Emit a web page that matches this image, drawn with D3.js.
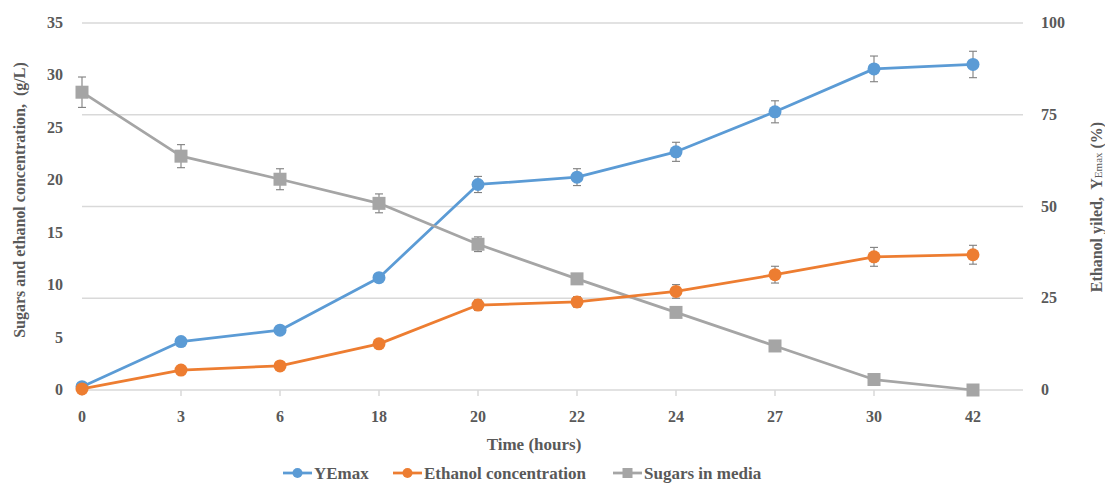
<!DOCTYPE html>
<html>
<head>
<meta charset="utf-8">
<script src="https://cdn.jsdelivr.net/npm/d3@7"></script>
<style>
  html, body { margin: 0; padding: 0; background: #fff; }
  svg { display: block; font-family: "Liberation Serif", "DejaVu Serif", serif; }
  text { white-space: pre; }
</style>
</head>
<body>
<svg id="chart" width="1105" height="483"></svg>
<script>
// ---- data ----
const categories = ["0", "3", "6", "18", "20", "22", "24", "27", "30", "42"];
const yemax      = [0.9, 13.2, 16.3, 30.6, 56.0, 58.0, 64.9, 75.8, 87.5, 88.7];
const yemaxErr   = [0.3, 0.5, 0.6, 0.8, 2.2, 2.3, 2.6, 3.0, 3.5, 3.6];
const ethanol    = [0.1, 1.9, 2.3, 4.4, 8.1, 8.4, 9.4, 11.0, 12.7, 12.9];
const ethanolErr = [0.05, 0.1, 0.15, 0.3, 0.5, 0.5, 0.65, 0.8, 0.9, 0.9];
const sugars     = [28.4, 22.3, 20.1, 17.8, 13.9, 10.6, 7.4, 4.2, 1.0, 0.0];
const sugarsErr  = [1.45, 1.1, 1.0, 0.9, 0.7, 0.4, 0.3, 0.2, 0.1, 0.05];
const leftTicks  = [0, 5, 10, 15, 20, 25, 30, 35];
const rightTicks = [0, 25, 50, 75, 100];
const seriesNames = ["YEmax", "Ethanol concentration", "Sugars in media"];
const colors = { blue: "#5B9BD5", orange: "#ED7D31", gray: "#A5A5A5" };

// ---- layout ----
const svg = d3.select("#chart");
const plotLeft = 82, plotRight = 1023, plotTop = 23, plotBottom = 390;
const x = d3.scalePoint().domain(categories).range([82, 973]);
const yL = d3.scaleLinear().domain([0, 35]).range([plotBottom, plotTop]);
const yR = d3.scaleLinear().domain([0, 100]).range([plotBottom, plotTop]);
const textColor = "#595959";
const gridColor = "#D9D9D9";

// gridlines (follow right axis)
svg.append("g").selectAll("line").data(rightTicks).join("line")
  .attr("x1", plotLeft).attr("x2", plotRight)
  .attr("y1", d => yR(d)).attr("y2", d => yR(d))
  .attr("stroke", gridColor).attr("stroke-width", 1.5);

// x-axis tick marks
svg.append("g").selectAll("line").data(categories).join("line")
  .attr("x1", d => x(d)).attr("x2", d => x(d))
  .attr("y1", plotBottom).attr("y2", plotBottom + 6)
  .attr("stroke", gridColor).attr("stroke-width", 1.5);

// x tick labels
svg.append("g").selectAll("text").data(categories).join("text")
  .attr("x", d => x(d)).attr("y", 422)
  .attr("text-anchor", "middle")
  .attr("font-size", 16).attr("font-weight", "bold").attr("fill", textColor)
  .text(d => d);

// left tick labels
svg.append("g").selectAll("text").data(leftTicks).join("text")
  .attr("x", 63).attr("y", d => yL(d) + 5)
  .attr("text-anchor", "end")
  .attr("font-size", 16).attr("font-weight", "bold").attr("fill", textColor)
  .text(d => d);

// right tick labels
svg.append("g").selectAll("text").data(rightTicks).join("text")
  .attr("x", 1041).attr("y", d => yR(d) + 5)
  .attr("text-anchor", "start")
  .attr("font-size", 16).attr("font-weight", "bold").attr("fill", textColor)
  .text(d => d);

// axis titles
svg.append("text")
  .attr("x", 534).attr("y", 450).attr("text-anchor", "middle")
  .attr("font-size", 17).attr("font-weight", "bold").attr("fill", textColor)
  .text("Time (hours)");

svg.append("text")
  .attr("transform", "translate(25,200) rotate(-90)")
  .attr("text-anchor", "middle")
  .attr("font-size", 16).attr("font-weight", "bold").attr("fill", textColor)
  .text("Sugars and ethanol concentration,  (g/L)");

const rt = svg.append("text")
  .attr("transform", "translate(1102,207) rotate(-90)")
  .attr("text-anchor", "middle")
  .attr("font-size", 16).attr("font-weight", "bold").attr("fill", textColor);
rt.append("tspan").text("Ethanol yiled,  Y");
rt.append("tspan").attr("font-size", 11).attr("font-weight", "normal").text("Emax");
rt.append("tspan").text(" (%)");

// ---- series ----
function drawSeries(values, errs, yScale, color, shape) {
  const g = svg.append("g");
  const pts = categories.map((c, i) => ({ c, v: values[i], e: errs[i] }));
  g.append("path")
    .datum(pts)
    .attr("fill", "none").attr("stroke", color).attr("stroke-width", 2.75)
    .attr("stroke-linejoin", "round")
    .attr("d", d3.line().x(d => x(d.c)).y(d => yScale(d.v)));
  // error bars
  const eb = g.append("g").attr("stroke", "#7F7F7F").attr("stroke-width", 1.1);
  pts.forEach(d => {
    const cx = x(d.c), y1 = yScale(d.v + d.e), y2 = yScale(d.v - d.e);
    eb.append("line").attr("x1", cx).attr("x2", cx).attr("y1", y1).attr("y2", y2);
    eb.append("line").attr("x1", cx - 4).attr("x2", cx + 4).attr("y1", y1).attr("y2", y1);
    eb.append("line").attr("x1", cx - 4).attr("x2", cx + 4).attr("y1", y2).attr("y2", y2);
  });
  // markers
  if (shape === "circle") {
    g.selectAll("circle").data(pts).join("circle")
      .attr("cx", d => x(d.c)).attr("cy", d => yScale(d.v)).attr("r", 6.5)
      .attr("fill", color);
  } else {
    g.selectAll("rect").data(pts).join("rect")
      .attr("x", d => x(d.c) - 6.5).attr("y", d => yScale(d.v) - 6.5)
      .attr("width", 13).attr("height", 13).attr("fill", color);
  }
}

drawSeries(yemax, yemaxErr, yR, colors.blue, "circle");
drawSeries(sugars, sugarsErr, yL, colors.gray, "square");
drawSeries(ethanol, ethanolErr, yL, colors.orange, "circle");

// ---- legend ----
const legendItems = [
  { name: seriesNames[0], color: colors.blue, shape: "circle", x0: 283 },
  { name: seriesNames[1], color: colors.orange, shape: "circle", x0: 393 },
  { name: seriesNames[2], color: colors.gray, shape: "square", x0: 613 }
];
const ly = 473;
const lg = svg.append("g");
legendItems.forEach(it => {
  lg.append("line").attr("x1", it.x0).attr("x2", it.x0 + 29)
    .attr("y1", ly).attr("y2", ly).attr("stroke", it.color).attr("stroke-width", 2.75);
  if (it.shape === "circle") {
    lg.append("circle").attr("cx", it.x0 + 14.5).attr("cy", ly).attr("r", 5).attr("fill", it.color);
  } else {
    lg.append("rect").attr("x", it.x0 + 14.5 - 5).attr("y", ly - 5).attr("width", 10).attr("height", 10).attr("fill", it.color);
  }
  lg.append("text").attr("x", it.x0 + 31).attr("y", ly + 5.5)
    .attr("font-size", 17).attr("font-weight", "bold").attr("fill", textColor)
    .text(it.name);
});
</script>
</body>
</html>
